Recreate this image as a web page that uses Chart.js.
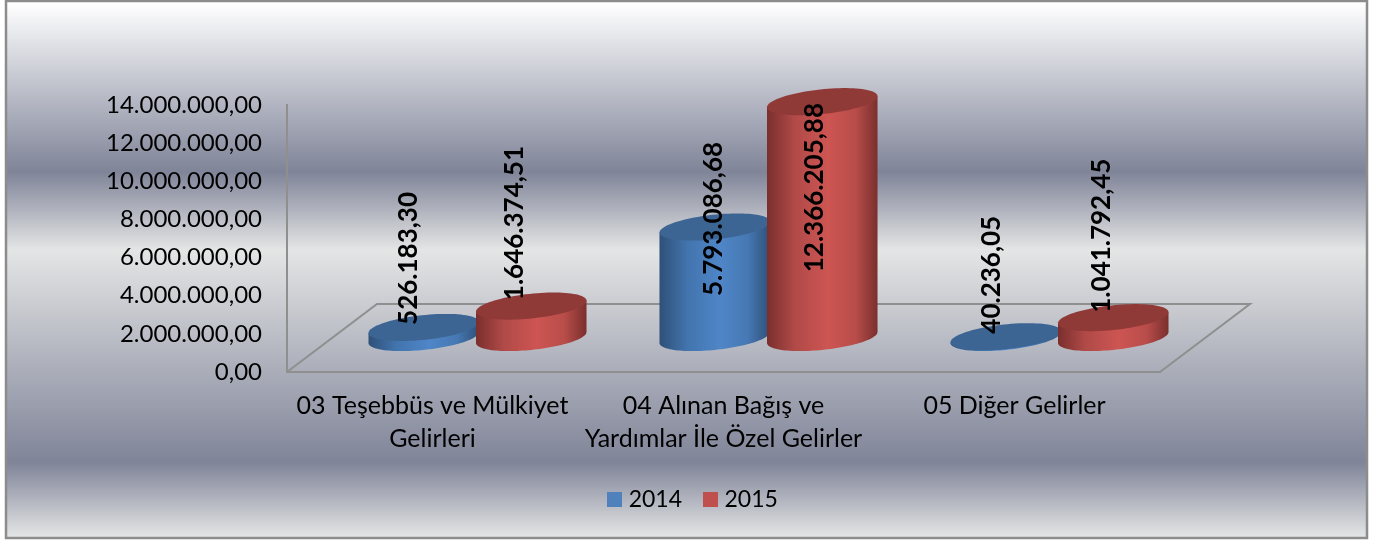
<!DOCTYPE html>
<html><head><meta charset="utf-8">
<style>html,body{margin:0;padding:0;background:#fff}canvas{display:block}</style>
<script src="https://cdn.jsdelivr.net/npm/chart.js@4"></script>
</head><body><canvas id="c" width="1378" height="540"></canvas>
<script>
const categories = [["03 Teşebbüs ve Mülkiyet","Gelirleri"],["04 Alınan Bağış ve","Yardımlar İle Özel Gelirler"],"05 Diğer Gelirler"];
const seriesNames = ["2014","2015"];
const values2014 = [526183.30, 5793086.68, 40236.05];
const values2015 = [1646374.51, 12366205.88, 1041792.45];
const labels2014 = ["526.183,30","5.793.086,68","40.236,05"];
const labels2015 = ["1.646.374,51","12.366.205,88","1.041.792,45"];
const yTickLabels = ["0,00","2.000.000,00","4.000.000,00","6.000.000,00","8.000.000,00","10.000.000,00","12.000.000,00","14.000.000,00"];

const FONT = 'Lato, "Open Sans", sans-serif';
const depthX = 45, depthY = -34.5;
const floorBack = {dx: 90, dy: -68};
const styles = [
  {legend:'#4f81bd', edge:'#2f5078', mid:'#4f86c8', top:'#3c6594'},
  {legend:'#c0504d', edge:'#7a2f2d', mid:'#cd5552', top:'#903a38'}
];
// hand-placed data label offsets from the top of each cylinder: [dx, dy to centre]
const labelOffsets = [
  [[-15,-69],[-1,-8],[-14,-62]],
  [[-17,-83],[-8,86],[-12,-82]]
];

function swatch(color){
  const s = document.createElement('canvas');
  s.width = 15; s.height = 15;
  const x = s.getContext('2d');
  x.fillStyle = color; x.fillRect(0,0,15,15);
  return s;
}

const cylinders = {
  id:'cylinders',
  beforeDraw(ch){
    const c = ch.ctx, W = ch.width, H = ch.height;
    c.save();
    c.fillStyle='#fff'; c.fillRect(0,0,W,H);
    const g = c.createLinearGradient(0,3,0,537);
    g.addColorStop(0,'#ffffff');
    g.addColorStop(0.316,'#7f8498');
    g.addColorStop(0.4625,'#e4e5e5');
    g.addColorStop(0.86,'#7f8498');
    g.addColorStop(1,'#e4e5e5');
    c.fillStyle=g; c.fillRect(6,1,1361,537);
    c.strokeStyle='#8c8c8c'; c.lineWidth=2.5; c.strokeRect(6,1,1361,537);
    // floor
    const a = ch.chartArea;
    c.strokeStyle='#8f8f8f'; c.lineWidth=2;
    c.beginPath();
    c.moveTo(a.left,a.bottom);
    c.lineTo(a.left+floorBack.dx,a.bottom+floorBack.dy);
    c.lineTo(a.right+floorBack.dx,a.bottom+floorBack.dy);
    c.lineTo(a.right,a.bottom);
    c.stroke();
    c.restore();
  },
  afterDatasetsDraw(ch){
    const c = ch.ctx, base = ch.chartArea.bottom;
    const metas = [ch.getDatasetMeta(0), ch.getDatasetMeta(1)];
    const tilt = 5.5, b = 12.4;
    for (let i=0;i<categories.length;i++){
      metas.forEach((m,ds)=>{
        const el = m.data[i], s = styles[ds];
        const cx = el.x+depthX, a = el.width/2+1.5;
        const topY = el.y+depthY, botY = base+depthY;
        const pt=(t,cy)=>[cx+a*Math.cos(t), cy-tilt*Math.cos(t)-b*Math.sin(t)];
        const g = c.createLinearGradient(cx-a,0,cx+a,0);
        g.addColorStop(0,s.edge); g.addColorStop(0.25,ds?'#b04a48':'#4274ad');
        g.addColorStop(0.55,s.mid); g.addColorStop(0.8,ds?'#b84d4a':'#4678b3'); g.addColorStop(1,s.edge);
        c.beginPath();
        c.moveTo(...pt(Math.PI,topY));
        for(let k=0;k<=60;k++) c.lineTo(...pt(Math.PI+Math.PI*k/60,botY));
        c.lineTo(...pt(0,topY)); c.closePath();
        c.fillStyle=g; c.fill();
        c.beginPath();
        for(let k=0;k<=90;k++){const p=pt(2*Math.PI*k/90,topY); k?c.lineTo(...p):c.moveTo(...p);}
        c.closePath(); c.fillStyle=s.top; c.fill();
      });
    }
    const texts=[labels2014,labels2015];
    metas.forEach((m,ds)=>m.data.forEach((el,i)=>{
      const o = labelOffsets[ds][i];
      c.save();
      c.translate(el.x+depthX+o[0], el.y+depthY+o[1]);
      c.rotate(-Math.PI/2);
      c.font='bold 26px '+FONT; c.fillStyle='#000';
      c.textAlign='center'; c.textBaseline='middle';
      c.fillText(texts[ds][i],0,0);
      c.restore();
    }));
  }
};

new Chart(document.getElementById('c'),{
  type:'bar',
  plugins:[cylinders],
  data:{labels:categories,datasets:[
    {label:seriesNames[0],data:values2014,backgroundColor:'rgba(0,0,0,0)',borderWidth:0},
    {label:seriesNames[1],data:values2015,backgroundColor:'rgba(0,0,0,0)',borderWidth:0}
  ]},
  options:{
    responsive:false,animation:false,devicePixelRatio:1,
    layout:{padding:{left:12,right:0,top:105,bottom:19}},
    datasets:{bar:{categoryPercentage:0.739,barPercentage:1}},
    plugins:{
      tooltip:{enabled:false},
      legend:{position:'bottom',
        labels:{font:{family:FONT,size:23},color:'#000',usePointStyle:true,pointStyleWidth:5,boxHeight:15,padding:26,
          generateLabels(ch){return seriesNames.map((n,i)=>({text:n,pointStyle:swatch(styles[i].legend),fillStyle:styles[i].legend,strokeStyle:styles[i].legend,lineWidth:0,datasetIndex:i}));}}}
    },
    scales:{
      x:{grid:{display:false},border:{color:'#8f8f8f',width:2},
         afterFit(s){s.height=90;},
         ticks:{font:{family:FONT,size:25,lineHeight:1.32},color:'#000',maxRotation:0,minRotation:0,autoSkip:false,padding:9}},
      y:{min:0,max:14000000,afterFit(s){s.width=275;},
         grid:{display:false,drawTicks:false},border:{color:'#8f8f8f',width:2},
         ticks:{stepSize:2000000,font:{family:FONT,size:24},color:'#000',padding:25,
           callback(v){return yTickLabels[Math.round(v/2000000)];}}},
      spacer:{position:'right',min:0,max:1,afterFit(s){s.width=218;},
         grid:{display:false,drawTicks:false},border:{display:false},ticks:{display:false}}
    }
  }
});
</script></body></html>
